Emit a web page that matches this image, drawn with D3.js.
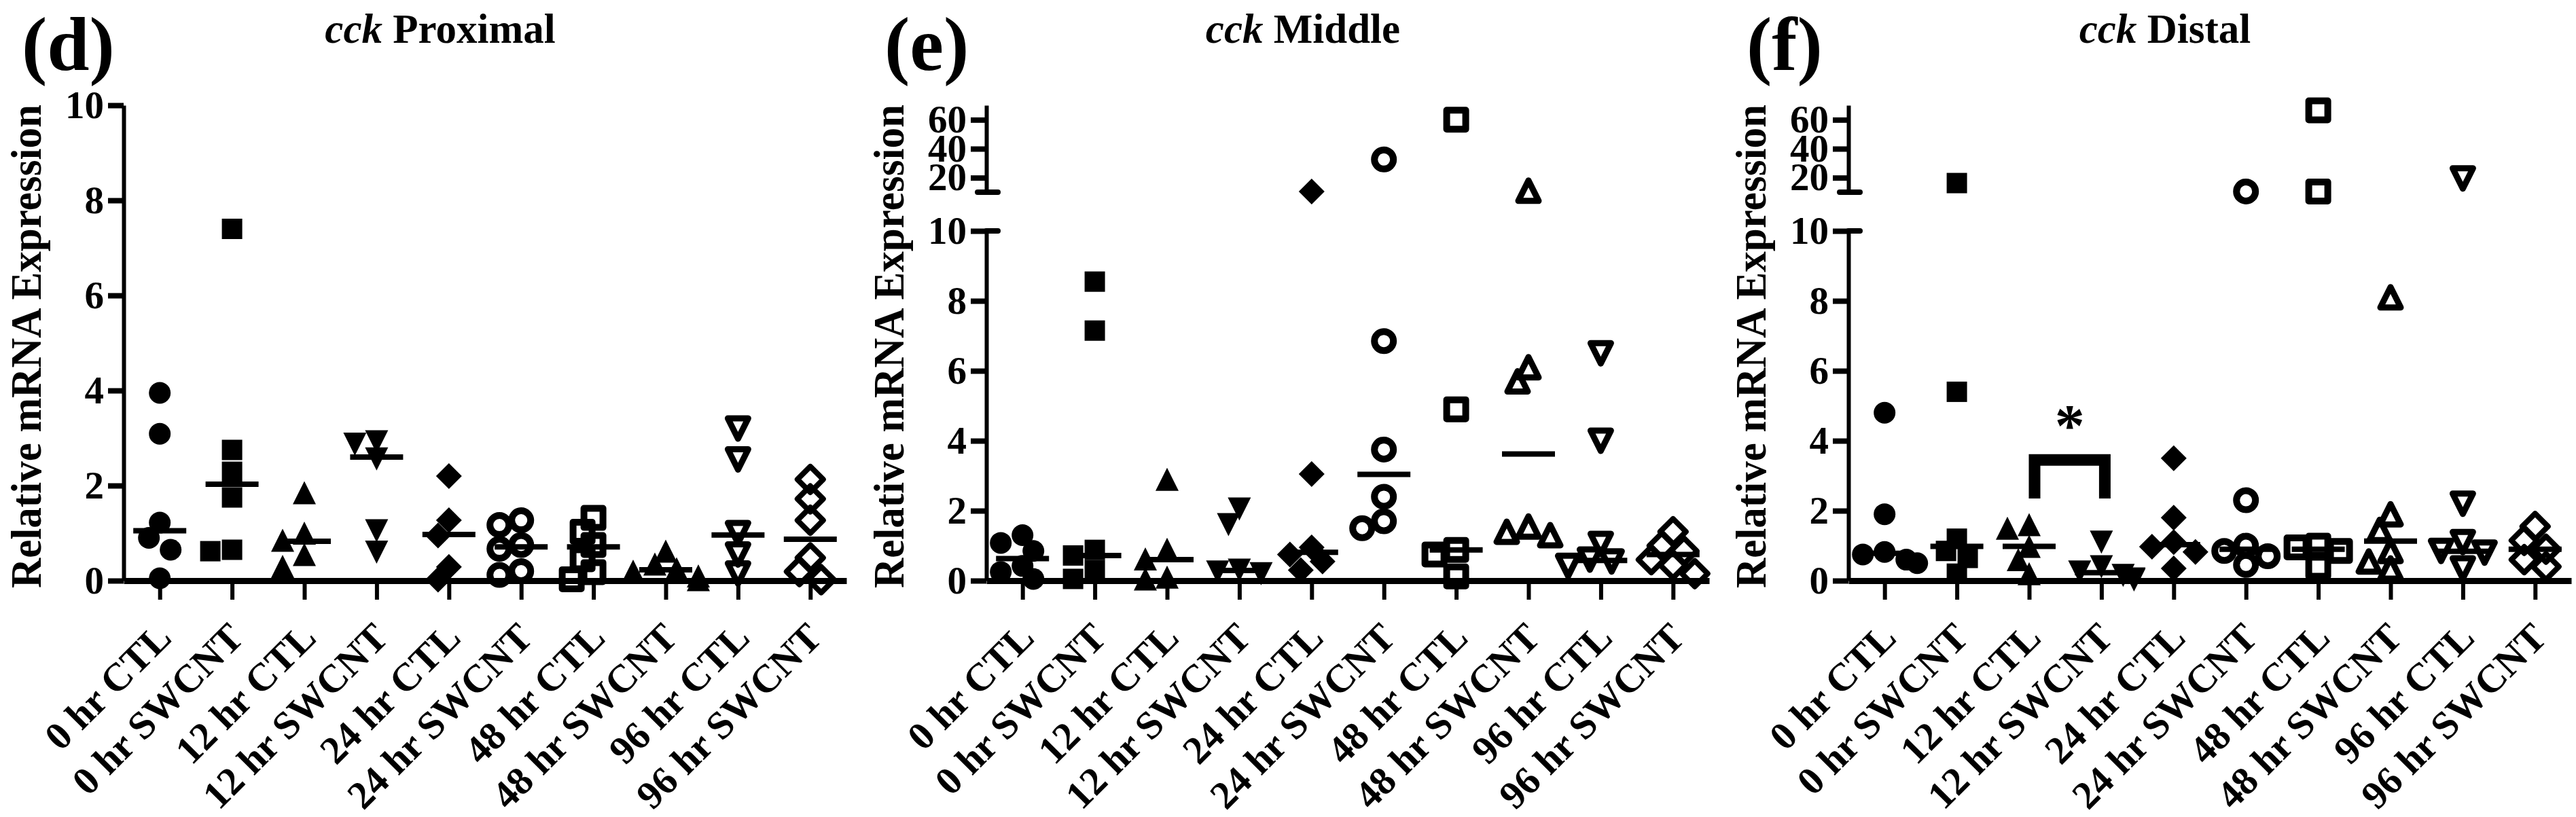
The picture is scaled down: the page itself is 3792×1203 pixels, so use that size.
<!DOCTYPE html>
<html>
<head>
<meta charset="utf-8">
<script src="https://cdn.jsdelivr.net/npm/d3@7"></script>
<style>
  html, body { margin: 0; padding: 0; background: #ffffff; }
  svg text { font-family: "Liberation Serif", "Times New Roman", serif; font-weight: bold; fill: #000; }
</style>
</head>
<body>
<svg id="chart" width="3792" height="1203"></svg>
<script>
// ---------------- DATA ----------------
const categories = ["0 hr CTL", "0 hr SWCNT", "12 hr CTL", "12 hr SWCNT", "24 hr CTL",
                    "24 hr SWCNT", "48 hr CTL", "48 hr SWCNT", "96 hr CTL", "96 hr SWCNT"];

const panelLetters = ["(d)", "(e)", "(f)"];
const geneName = "cck";
const panelRegions = ["Proximal", "Middle", "Distal"];
const yAxisTitle = "Relative mRNA Expression";

const lowerTicks = [0, 2, 4, 6, 8, 10];
const upperTicks = [20, 40, 60];

// cck Proximal
const proximalValues = [
  [3.95, 3.09, 1.22, 0.9, 0.65, 0.05],
  [7.4, 2.75, 2.29, 1.75, 0.65, 0.62],
  [1.85, 1.0, 0.85, 0.55, 0.3],
  [2.92, 2.87, 2.56, 1.05, 0.6],
  [2.2, 1.27, 0.95, 0.29, 0.02],
  [1.27, 1.17, 0.75, 0.67, 0.2, 0.12],
  [1.32, 1.03, 0.75, 0.45, 0.18, 0.03],
  [0.62, 0.35, 0.25, 0.2, 0.1, 0.02],
  [3.2, 2.55, 1.0, 0.55, 0.15],
  [2.13, 1.72, 1.27, 0.48, 0.19, 0.02]
];
const proximalMedians = [1.05, 2.03, 0.83, 2.6, 0.97, 0.71, 0.71, 0.23, 0.96, 0.87];

// cck Middle
const middleValues = [
  [1.3, 1.08, 0.85, 0.42, 0.25, 0.05],
  [8.55, 7.15, 0.88, 0.72, 0.3, 0.05],
  [2.9, 0.9, 0.62, 0.1, 0.05],
  [2.05, 1.6, 0.3, 0.25, 0.2],
  [10.5, 3.05, 0.95, 0.75, 0.55, 0.3],
  [32.6, 6.85, 3.75, 2.4, 1.7, 1.5],
  [60, 4.9, 0.88, 0.75, 0.12],
  [11, 6.1, 5.7, 1.55, 1.4, 1.3],
  [6.5, 4.0, 1.05, 0.6, 0.55, 0.42],
  [1.4, 1.0, 0.85, 0.6, 0.45, 0.2]
];
const middleMedians = [0.63, 0.72, 0.6, 0.29, 0.81, 3.04, 0.88, 3.62, 0.58, 0.75];

// cck Distal
const distalValues = [
  [4.8, 1.9, 0.82, 0.75, 0.6, 0.5],
  [16.3, 5.4, 1.2, 0.85, 0.65, 0.2],
  [1.6, 1.5, 0.98, 0.6, 0.2],
  [1.1, 0.4, 0.25, 0.15, 0.05, 0.02],
  [3.5, 1.8, 1.1, 0.97, 0.82, 0.35],
  [10.5, 2.3, 1.0, 0.85, 0.7, 0.45],
  [66.5, 10.5, 1.0, 0.95, 0.85, 0.4],
  [8.1, 1.9, 1.45, 0.85, 0.55, 0.35],
  [19.5, 2.2, 1.1, 0.85, 0.8, 0.35],
  [1.55, 1.15, 0.9, 0.6, 0.4]
];
const distalMedians = [0.78, 0.98, 0.98, 0.23, 1.03, 0.9, 0.9, 1.13, 0.84, 0.9];

// significance bracket (panel f)
const sigFrom = "12 hr CTL";
const sigTo = "12 hr SWCNT";
const sigTopValue = 3.45;
const sigLegValue = 2.35;
const sigStarValue = 4.68;
const sigLabel = "*";

// ---------------- STYLE / LAYOUT ----------------
const symbolTypes = ["circle", "square", "triUp", "triDown", "diamond",
                     "circle", "square", "triUp", "triDown", "diamond"];
const symbolFilledByPanel = [
  [true, true, true, true, true, false, false, true, false, false],
  [true, true, true, true, true, false, false, false, false, false],
  [true, true, true, true, true, false, false, false, false, false]
];

const panelOffsets = [0, 1270, 2539];
const AXIS_X = 182, AXIS_LEN = 1064;
const Y_ZERO = 855, Y_TOP = 155;
const LOWER_TOP_BROKEN = 340, UPPER_BOTTOM = 283;
const TICK_FONT = 57, LABEL_FONT = 58, TITLE_FONT = 61, LETTER_FONT = 112, YTITLE_FONT = 63;

const panels = [
  { letter: panelLetters[0], region: panelRegions[0], values: proximalValues, medians: proximalMedians, broken: false },
  { letter: panelLetters[1], region: panelRegions[1], values: middleValues, medians: middleMedians, broken: true },
  { letter: panelLetters[2], region: panelRegions[2], values: distalValues, medians: distalMedians, broken: true, sig: true }
];

const svg = d3.select("#chart");
svg.append("rect").attr("width", 3792).attr("height", 1203).attr("fill", "#fff");

function symbolPath(type, h) {
  switch (type) {
    case "circle": return `M${-h},0A${h},${h} 0 1,0 ${h},0A${h},${h} 0 1,0 ${-h},0Z`;
    case "square": return `M${-h},${-h}H${h}V${h}H${-h}Z`;
    case "triUp": return `M0,${-h}L${h},${h}L${-h},${h}Z`;
    case "triDown": return `M0,${h}L${h},${-h}L${-h},${-h}Z`;
    case "diamond": return `M0,${-h}L${h},0L0,${h}L${-h},0Z`;
  }
}
const filledSize = { circle: 16, square: 15, triUp: 17, triDown: 17, diamond: 19 };
const openSize = { circle: 14, square: 14, triUp: 15, triDown: 15, diamond: 19 };
const openStroke = { circle: 10, square: 10, triUp: 9, triDown: 9, diamond: 8 };

// horizontal spreading of overlapping points (column scatter)
function dodge(vals, yFn, cx) {
  const STEP = 16, MIN_D = 24;
  const placed = [];
  const sorted = vals.map((v, i) => ({ v, i })).sort((a, b) => b.v - a.v);
  for (const p of sorted) {
    const y = yFn(p.v);
    let off = 0;
    for (const c of [0, -1, 1, -2, 2, -3, 3]) {
      off = c * STEP;
      if (placed.every(q => Math.hypot(q.x - (cx + off), q.y - y) >= MIN_D)) break;
    }
    placed.push({ x: cx + off, y, v: p.v });
  }
  return placed;
}

function styleAxis(g, domainW, tickW) {
  g.select(".domain").attr("stroke", "#000").attr("stroke-width", domainW);
  g.selectAll(".tick line").attr("stroke", "#000").attr("stroke-width", tickW);
  g.selectAll(".tick text")
    .attr("font-family", '"Liberation Serif", "Times New Roman", serif')
    .attr("font-weight", "bold").attr("font-size", TICK_FONT).attr("fill", "#000");
}

panels.forEach((p, pi) => {
  const off = panelOffsets[pi];
  const left = off + AXIS_X, right = left + AXIS_LEN;
  const g = svg.append("g");

  const x = d3.scalePoint().domain(categories).range([left, right]).padding(0.5);
  const yLower = d3.scaleLinear().domain([0, 10]).range([Y_ZERO, p.broken ? LOWER_TOP_BROKEN : Y_TOP]);
  const yUpper = d3.scaleLinear().domain([10, 70]).range([UPPER_BOTTOM, Y_TOP]);
  const yOf = v => (!p.broken || v <= 10) ? yLower(v) : yUpper(v);

  // panel letter
  g.append("text").attr("x", off + 32).attr("y", 103)
    .attr("font-size", LETTER_FONT).text(p.letter);

  // title
  const t = g.append("text").attr("x", off + 648).attr("y", 63).attr("text-anchor", "middle").attr("font-size", TITLE_FONT);
  t.append("tspan").attr("font-style", "italic").text(geneName);
  t.append("tspan").text(" " + p.region);

  // y title
  g.append("text")
    .attr("transform", `translate(${off + 60},${510}) rotate(-90)`)
    .attr("text-anchor", "middle").attr("font-size", YTITLE_FONT)
    .attr("textLength", 712).attr("lengthAdjust", "spacingAndGlyphs")
    .text(yAxisTitle);

  // x axis
  const xa = g.append("g").attr("transform", `translate(0,${Y_ZERO})`)
    .call(d3.axisBottom(x).tickSizeInner(28).tickSizeOuter(0).tickFormat(() => ""));
  styleAxis(xa, 9, 6);

  // x labels
  g.selectAll("text.xl").data(categories).join("text").attr("class", "xl")
    .attr("text-anchor", "end").attr("font-size", LABEL_FONT)
    .attr("transform", d => `translate(${x(d) + 20},${942}) rotate(-45)`)
    .text(d => d);

  // y axes
  const ya = g.append("g").attr("transform", `translate(${left},0)`)
    .call(d3.axisLeft(yLower).tickValues(lowerTicks).tickSizeInner(23).tickSizeOuter(0).tickPadding(6).tickFormat(d3.format("d")));
  styleAxis(ya, 6, 8);
  if (p.broken) {
    const yu = g.append("g").attr("transform", `translate(${left},0)`)
      .call(d3.axisLeft(yUpper).tickValues(upperTicks).tickSizeInner(23).tickSizeOuter(0).tickPadding(6).tickFormat(d3.format("d")));
    styleAxis(yu, 6, 8);
    // break caps
    g.append("line").attr("x1", left).attr("x2", left + 17).attr("y1", yLower(10)).attr("y2", yLower(10))
      .attr("stroke", "#000").attr("stroke-width", 8).attr("stroke-linecap", "round");
    g.append("line").attr("x1", left - 13).attr("x2", left + 17).attr("y1", yUpper(10)).attr("y2", yUpper(10))
      .attr("stroke", "#000").attr("stroke-width", 8).attr("stroke-linecap", "round");
  }

  // points
  categories.forEach((c, ci) => {
    const pts = dodge(p.values[ci], yOf, x(c));
    const type = symbolTypes[ci];
    const filled = symbolFilledByPanel[pi][ci];
    g.selectAll(null).data(pts).join("path")
      .attr("transform", d => `translate(${d.x},${d.y})`)
      .attr("d", symbolPath(type, filled ? filledSize[type] : openSize[type]))
      .attr("fill", filled ? "#000" : "none")
      .attr("stroke", filled ? "none" : "#000")
      .attr("stroke-width", filled ? 0 : openStroke[type])
      .attr("stroke-linejoin", "round");
  });

  // median lines
  g.selectAll("line.med").data(categories).join("line").attr("class", "med")
    .attr("x1", d => x(d) - 39).attr("x2", d => x(d) + 39)
    .attr("y1", (d, i) => yOf(p.medians[i])).attr("y2", (d, i) => yOf(p.medians[i]))
    .attr("stroke", "#000").attr("stroke-width", 8);

  // significance
  if (p.sig) {
    const x1 = x(sigFrom) + 8, x2 = x(sigTo) + 5;
    g.append("path")
      .attr("d", `M${x1},${yOf(sigLegValue)}V${yOf(sigTopValue)}H${x2}V${yOf(sigLegValue)}`)
      .attr("fill", "none").attr("stroke", "#000").attr("stroke-width", 17).attr("stroke-linejoin", "miter");
    g.append("text").attr("x", (x1 + x2) / 2).attr("y", yOf(sigStarValue)).attr("dy", "0.48em")
      .attr("text-anchor", "middle").attr("font-size", 88).attr("font-weight", "normal").text(sigLabel);
  }
});
</script>
</body>
</html>
